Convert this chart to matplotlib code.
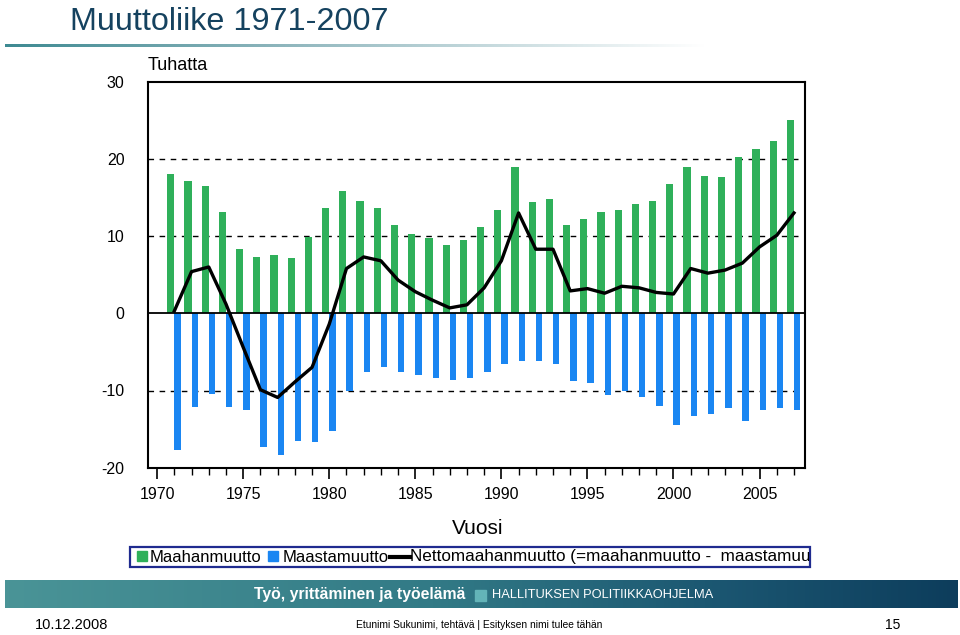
import numpy as np
import matplotlib
matplotlib.use("Agg")
import matplotlib.pyplot as plt
from matplotlib.patches import Rectangle
from matplotlib.lines import Line2D
from matplotlib.transforms import Bbox, TransformedBbox
from matplotlib.colors import LinearSegmentedColormap

years = list(range(1971, 2008))
immigration = [18.0, 17.2, 16.5, 13.1, 8.3, 7.3, 7.5, 7.1, 9.9, 13.6,
               15.8, 14.6, 13.6, 11.5, 10.3, 9.8, 8.9, 9.5, 11.2, 13.4,
               18.9, 14.4, 14.8, 11.5, 12.2, 13.1, 13.4, 14.2, 14.6, 16.8,
               18.9, 17.8, 17.6, 20.3, 21.3, 22.3, 25.1]
emigration = [-17.7, -12.1, -10.5, -12.1, -12.5, -17.3, -18.4, -16.5, -16.7, -15.2,
              -10.1, -7.6, -7.0, -7.6, -8.0, -8.4, -8.6, -8.4, -7.6, -6.6,
              -6.2, -6.2, -6.6, -8.8, -9.0, -10.6, -10.0, -10.9, -12.0, -14.5,
              -13.3, -13.1, -12.3, -13.9, -12.5, -12.3, -12.5]
net = [0.3, 5.4, 6.0, 1.2, -4.4, -9.9, -10.9, -8.9, -7.0, -1.4,
       5.8, 7.3, 6.8, 4.3, 2.8, 1.7, 0.7, 1.1, 3.3, 6.8,
       13.0, 8.3, 8.3, 2.9, 3.2, 2.6, 3.5, 3.3, 2.7, 2.5,
       5.8, 5.2, 5.6, 6.5, 8.6, 10.1, 13.0]
y_ticks = [-20, -10, 0, 10, 20, 30]
x_major = [1970, 1975, 1980, 1985, 1990, 1995, 2000, 2005]

title = "Muuttoliike 1971-2007"
unit_label = "Tuhatta"
x_label = "Vuosi"
legend_labels = ["Maahanmuutto", "Maastamuutto",
                 "Nettomaahanmuutto (=maahanmuutto -  maastamuutto)"]
footer_bold = "Työ, yrittäminen ja työelämä"
footer_caps = "HALLITUKSEN POLITIIKKAOHJELMA"
footer_date = "10.12.2008"
footer_mid = "Etunimi Sukunimi, tehtävä | Esityksen nimi tulee tähän"
footer_page = "15"

GREEN = "#2fb05a"
BLUE = "#1a86f2"
FONT = ["Liberation Sans", "DejaVu Sans"]
plt.rcParams['font.family'] = FONT
plt.rcParams['axes.unicode_minus'] = False

W, H = 960, 635
fig = plt.figure(figsize=(9.6, 6.35), dpi=100)

def fx(px):
    return px / W

def fy(py):
    return 1 - py / H

# title
fig.text(fx(70), fy(30), title, fontsize=23.3, color="#15425f", va="baseline", ha="left")

# gradient line under title
gax = fig.add_axes([fx(5), fy(47), fx(700), 3 / H])
gax.axis("off")
cm1 = LinearSegmentedColormap.from_list("g1", [(0, "#3e8a92"), (0.4, "#8fb6bd"), (1, "#ffffff")])
gax.imshow(np.linspace(0, 1, 256)[None, :], aspect="auto", cmap=cm1, extent=[0, 1, 0, 1])

# main axes
ax = fig.add_axes([fx(148), fy(467.7), fx(657), (467.7 - 81.7) / H])
x = np.array(years)
ax.bar(x, immigration, width=-0.42, align="edge", color=GREEN, zorder=3)
ax.bar(x, emigration, width=0.37, align="edge", color=BLUE, zorder=3)
ax.plot(x, net, color="black", lw=2.4, zorder=5, solid_joinstyle="round")
for g in [20, 10, -10]:
    ax.axhline(g, color="black", lw=1.0, ls=(0, (4, 4)), zorder=1)
ax.axhline(0, color="black", lw=1.3, zorder=4)
ax.set_xlim(1969.47, 2007.64)
ax.set_ylim(-20, 30)
ax.set_yticks(y_ticks)
ax.set_xticks(x_major)
ax.set_xticks(list(range(1970, 2008)), minor=True)
ax.tick_params(axis="y", length=0, pad=17, labelsize=11.5)
ax.tick_params(axis="x", which="major", direction="out", length=8, width=1.2, pad=6, labelsize=11.5)
ax.tick_params(axis="x", which="minor", direction="out", length=5, width=1.0)
for s in ax.spines.values():
    s.set_linewidth(1.5)
fig.text(fx(148), fy(66), unit_label, fontsize=13, ha="left", va="center")
fig.text(fx(478), fy(528), x_label, fontsize=15, ha="center", va="center")

# legend box
lb = Rectangle((fx(130), fy(567)), fx(680), 20 / H, transform=fig.transFigure,
               fill=False, edgecolor="#1f2b8f", lw=1.6)
fig.patches.append(lb)
fig.patches.append(Rectangle((fx(137), fy(561)), fx(10), 10 / H, transform=fig.transFigure,
                             color=GREEN))
fig.patches.append(Rectangle((fx(268), fy(561)), fx(10), 10 / H, transform=fig.transFigure,
                             color=BLUE))
fig.lines.append(Line2D([fx(390), fx(410)], [fy(557), fy(557)], transform=fig.transFigure,
                        color="black", lw=3))
fig.text(fx(150), fy(557), legend_labels[0], fontsize=12.0, va="center", ha="left")
fig.text(fx(283), fy(557), legend_labels[1], fontsize=12.0, va="center", ha="left")
t3 = fig.text(fx(410), fy(557), legend_labels[2], fontsize=12.3, va="center", ha="left")
t3.set_clip_on(True)
t3.set_clip_box(TransformedBbox(Bbox([[fx(130), fy(567)], [fx(809), fy(547)]]), fig.transFigure))

# footer band
bax = fig.add_axes([fx(5), fy(608), fx(952), 28 / H])
bax.axis("off")
cm2 = LinearSegmentedColormap.from_list("g2", [(0, "#4a9497"), (0.45, "#327a86"), (0.75, "#1b5671"), (1, "#0d3d5c")])
bax.imshow(np.linspace(0, 1, 256)[None, :], aspect="auto", cmap=cm2, extent=[0, 1, 0, 1])
fig.text(fx(465), fy(595), footer_bold, fontsize=11.3, fontweight="bold", color="white",
         ha="right", va="center")
fig.patches.append(Rectangle((fx(475), fy(601)), fx(11), 11 / H, transform=fig.transFigure,
                             color="#63b4b8"))
fig.text(fx(492), fy(595), footer_caps, fontsize=9.3, color="white", ha="left", va="center")

fig.text(fx(35), fy(625), footer_date, fontsize=10.5, ha="left", va="center")
fig.text(fx(479), fy(625), footer_mid, fontsize=7.4, ha="center", va="center")
fig.text(fx(900), fy(625), footer_page, fontsize=10, ha="right", va="center")

fig.savefig("out.png", dpi=100)
